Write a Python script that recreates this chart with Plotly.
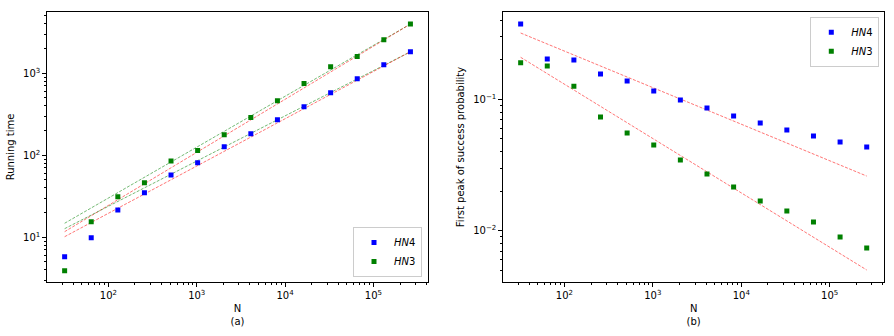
import plotly.graph_objects as go

# ---- data ----
N = [32, 64, 128, 256, 512, 1024, 2048, 4096, 8192, 16384, 32768, 65536, 131072, 262144]

time_hn4 = [5.8, 9.9, 21.5, 35, 57.5, 81, 127, 183, 272, 392, 580, 859, 1273, 1834]
time_hn3 = [3.92, 15.5, 31.3, 46.3, 85, 114, 178, 288, 464, 748, 1205, 1597, 2573, 3980]

prob_hn4 = [0.3745, 0.2027, 0.199, 0.156, 0.138, 0.1157, 0.0988, 0.0859, 0.0746, 0.066,
            0.0584, 0.0526, 0.0473, 0.0434]
prob_hn3 = [0.19, 0.1796, 0.126, 0.0733, 0.0553, 0.0449, 0.0345, 0.027, 0.0215, 0.0168,
            0.0141, 0.01164, 0.00895, 0.00738]

# power-law fits  y = a * N^b   (prefactor, exponent)
time_fit_hn3_green = (1.725, 0.6207)
time_fit_hn3_red = (1.243, 0.647)
time_fit_hn4_green = (1.884, 0.5514)
time_fit_hn4_red = (1.378, 0.5765)
prob_fit_hn4 = (0.839, -0.2783)
prob_fit_hn3 = (0.876, -0.4137)

# tick labels
x_tickvals = [1e2, 1e3, 1e4, 1e5]
x_ticktext = ["10<sup>2</sup>", "10<sup>3</sup>", "10<sup>4</sup>", "10<sup>5</sup>"]
y1_tickvals = [1e1, 1e2, 1e3]
y1_ticktext = ["10<sup>1</sup>", "10<sup>2</sup>", "10<sup>3</sup>"]
y2_tickvals = [1e-2, 1e-1]
y2_ticktext = ["10<sup>\u22122</sup>", "10<sup>\u22121</sup>"]

label_hn4 = "<i>HN</i>4"
label_hn3 = "<i>HN</i>3"

BLUE = "#0000ff"
GREEN = "#008000"
RED = "#ff0000"
FONT = "DejaVu Sans"


def fit_line(params):
    a, b = params
    xs = [N[0], N[-1]]
    return xs, [a * x ** b for x in xs]


fig = go.Figure()

LINE_DASH = "3px,1.5px"

# ---- left panel ----
for params, col in [(time_fit_hn3_green, GREEN), (time_fit_hn3_red, RED),
                    (time_fit_hn4_green, GREEN), (time_fit_hn4_red, RED)]:
    xs, ys = fit_line(params)
    fig.add_trace(go.Scatter(x=xs, y=ys, mode="lines", showlegend=False,
                             line=dict(color=col, width=0.9, dash=LINE_DASH), opacity=0.6,
                             xaxis="x", yaxis="y"))

fig.add_trace(go.Scatter(x=N, y=time_hn4, mode="markers", name=label_hn4,
                         marker=dict(symbol="square", size=5, color=BLUE),
                         xaxis="x", yaxis="y", legend="legend"))
fig.add_trace(go.Scatter(x=N, y=time_hn3, mode="markers", name=label_hn3,
                         marker=dict(symbol="square", size=5, color=GREEN),
                         xaxis="x", yaxis="y", legend="legend"))

# ---- right panel ----
for params in [prob_fit_hn4, prob_fit_hn3]:
    xs, ys = fit_line(params)
    fig.add_trace(go.Scatter(x=xs, y=ys, mode="lines", showlegend=False,
                             line=dict(color=RED, width=0.9, dash=LINE_DASH), opacity=0.6,
                             xaxis="x2", yaxis="y2"))

fig.add_trace(go.Scatter(x=N, y=prob_hn4, mode="markers", name=label_hn4,
                         marker=dict(symbol="square", size=5, color=BLUE),
                         xaxis="x2", yaxis="y2", legend="legend2"))
fig.add_trace(go.Scatter(x=N, y=prob_hn3, mode="markers", name=label_hn3,
                         marker=dict(symbol="square", size=5, color=GREEN),
                         xaxis="x2", yaxis="y2", legend="legend2"))

W, H = 894, 336


def minor_vals(lo, hi):
    vals = []
    for e in range(lo, hi):
        for k in range(2, 10):
            vals.append(k * 10.0 ** e)
    return vals


axis_common = dict(
    type="log", showgrid=False, zeroline=False, showline=True, mirror=True,
    linecolor="black", linewidth=1, ticks="outside", ticklen=4, tickwidth=1,
    tickcolor="black", tickmode="array", automargin=False,
    tickfont=dict(family=FONT, size=10, color="black"),
)


def minor(lo, hi):
    return dict(tickmode="array", tickvals=minor_vals(lo, hi), ticks="outside", ticklen=2,
                tickcolor="black", showgrid=False)


xrange = [1.309, 5.614]
fig.update_layout(
    width=W, height=H,
    margin=dict(l=0, r=0, t=0, b=0),
    paper_bgcolor="white", plot_bgcolor="white",
    font=dict(family=FONT, size=10, color="black"),
    xaxis=dict(axis_common, domain=[47.3 / W, 427.7 / W], range=xrange, anchor="y",
               tickvals=x_tickvals, ticktext=x_ticktext, minor=minor(1, 6),
               title=dict(text="N<br>(a)", standoff=4, font=dict(family=FONT, size=10))),
    yaxis=dict(axis_common, domain=[1 - 282.3 / H, 1 - 11.7 / H], range=[0.451, 3.751],
               anchor="x", tickvals=y1_tickvals, ticktext=y1_ticktext, minor=minor(0, 4),
               title=dict(text="Running time", standoff=6, font=dict(family=FONT, size=10))),
    xaxis2=dict(axis_common, domain=[503.3 / W, 884 / W], range=xrange, anchor="y2",
                tickvals=x_tickvals, ticktext=x_ticktext, minor=minor(1, 6),
                title=dict(text="N<br>(b)", standoff=4, font=dict(family=FONT, size=10))),
    yaxis2=dict(axis_common, domain=[1 - 282.3 / H, 1 - 11.7 / H], range=[-2.393, -0.333],
                anchor="x2", tickvals=y2_tickvals, ticktext=y2_ticktext, minor=minor(-3, 0),
                title=dict(text="First peak of success probability", standoff=6,
                           font=dict(family=FONT, size=10))),
    legend=dict(x=422 / W, y=1 - 277 / H, xanchor="right", yanchor="bottom",
                bgcolor="rgba(255,255,255,0.8)", bordercolor="#cccccc", borderwidth=1,
                font=dict(family=FONT, size=10), itemwidth=30, tracegroupgap=0),
    legend2=dict(x=879.3 / W, y=1 - 16.7 / H, xanchor="right", yanchor="top",
                 bgcolor="rgba(255,255,255,0.8)", bordercolor="#cccccc", borderwidth=1,
                 font=dict(family=FONT, size=10), itemwidth=30, tracegroupgap=0),
)

fig.write_html("out.html")
